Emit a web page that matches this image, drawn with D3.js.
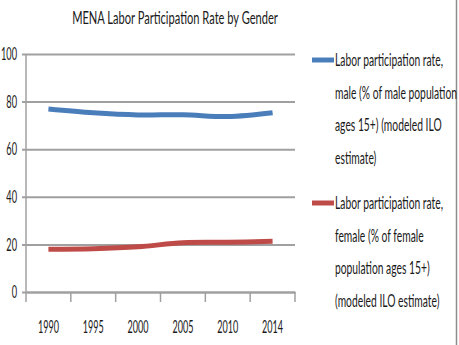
<!DOCTYPE html>
<html><head><meta charset="utf-8">
<script src="https://cdn.jsdelivr.net/npm/d3@7"></script>
<style>
html,body{margin:0;padding:0;background:#fff;}
svg{display:block;}
text{font-family:Lato,"Open Sans",sans-serif;fill:#1a1a1a;}
</style></head>
<body>
<svg id="chart" width="459" height="345"></svg>
<script>
const years = ["1990","1995","2000","2005","2010","2014"];
const maleRate = [76.9, 75.3, 74.4, 74.5, 73.7, 75.3];
const femaleRate = [18.0, 18.2, 19.0, 20.7, 20.9, 21.3];
const yTicks = [0, 20, 40, 60, 80, 100];
const titleText = "MENA Labor Participation Rate by Gender";
const maleLegend = ["Labor participation rate,", "male (% of male population", "ages 15+) (modeled ILO", "estimate)"];
const femaleLegend = ["Labor participation rate,", "female (% of female", "population ages 15+)", "(modeled ILO estimate)"];

const svg = d3.select("#chart");
const W = 459, H = 345;
const plot = {left: 26, right: 295, top: 54, bottom: 292};
const gridColor = "#a0a0a0";
const colors = {male: "#4a7ebb", female: "#be4b48"};

const x = d3.scaleBand().domain(years).range([plot.left, plot.right]);
const y = d3.scaleLinear().domain([0, 100]).range([plot.bottom, plot.top]);

// Place texts, then squeeze horizontally (via transform) so a reference string reaches a target width
function placeSqueezed(sel, px, py, refWidth, refIndex) {
  const nodes = sel.nodes();
  const k = refWidth / nodes[refIndex || 0].getComputedTextLength();
  sel.attr("x", 0).attr("y", 0)
    .attr("transform", (d, i) => `translate(${px(d, i)},${py(d, i)}) scale(${k.toFixed(4)},1)`);
}

// right border
svg.append("line").attr("x1", 456.5).attr("x2", 456.5).attr("y1", 0).attr("y2", H)
  .attr("stroke", "#8c8c8c").attr("stroke-width", 1.5);

// title
const title = svg.append("g").selectAll("text").data([titleText]).join("text")
  .attr("text-anchor", "middle").attr("font-size", 18).text(d => d);
placeSqueezed(title, () => 175, () => 24, 206);

// gridlines (y axis)
const yAxis = d3.axisLeft(y).tickValues(yTicks).tickSize(-(plot.right - plot.left)).tickSizeOuter(0).tickFormat("");
const gy = svg.append("g").attr("transform", `translate(${plot.left},0)`).call(yAxis);
gy.select(".domain").remove();
gy.selectAll(".tick line").attr("stroke", gridColor).attr("stroke-width", 2)
  .attr("x1", -4);

// left axis line
svg.append("line").attr("x1", plot.left).attr("x2", plot.left).attr("y1", plot.top).attr("y2", plot.bottom)
  .attr("stroke", gridColor).attr("stroke-width", 1.5);

// y tick labels
const yl = svg.append("g").selectAll("text").data(yTicks).join("text")
  .attr("dy", "0.36em").attr("text-anchor", "end").attr("font-size", 17).text(d => d);
placeSqueezed(yl, () => 17, d => y(d), 16, 5);

// x axis
const xAxis = d3.axisBottom(x).tickSize(0).tickFormat("");
const gx = svg.append("g").attr("transform", `translate(0,${plot.bottom})`).call(xAxis);
gx.select(".domain").attr("stroke", gridColor).attr("stroke-width", 2);
const bounds = years.map(d => x(d)).concat([x(years[years.length - 1]) + x.bandwidth()]);
svg.append("g").selectAll("line").data(bounds).join("line")
  .attr("x1", d => d).attr("x2", d => d).attr("y1", plot.bottom).attr("y2", plot.bottom + 10)
  .attr("stroke", gridColor).attr("stroke-width", 1.5);

const xl = svg.append("g").selectAll("text").data(years).join("text")
  .attr("text-anchor", "middle").attr("font-size", 17).text(d => d);
placeSqueezed(xl, d => x(d) + x.bandwidth() / 2, () => 333, 21, 0);

// lines
const line = d3.line()
  .x((d, i) => x(years[i]) + x.bandwidth() / 2)
  .y(d => y(d))
  .curve(d3.curveCatmullRom.alpha(0));
svg.append("path").datum(maleRate).attr("d", line).attr("fill", "none")
  .attr("stroke", colors.male).attr("stroke-width", 5).attr("stroke-linecap", "butt");
svg.append("path").datum(femaleRate).attr("d", line).attr("fill", "none")
  .attr("stroke", colors.female).attr("stroke-width", 5).attr("stroke-linecap", "butt");

// legend
function legend(lines, color, y0) {
  const g = svg.append("g");
  g.append("line").attr("x1", 312).attr("x2", 334).attr("y1", y0).attr("y2", y0)
    .attr("stroke", color).attr("stroke-width", 5);
  const t = g.selectAll("text").data(lines).join("text")
    .attr("dy", "0.36em").attr("font-size", 17).text(d => d);
  placeSqueezed(t, () => 335, (d, i) => y0 + i * 32.5, 108, 0);
}
legend(maleLegend, colors.male, 60);
legend(femaleLegend, colors.female, 203);
</script>
</body></html>
